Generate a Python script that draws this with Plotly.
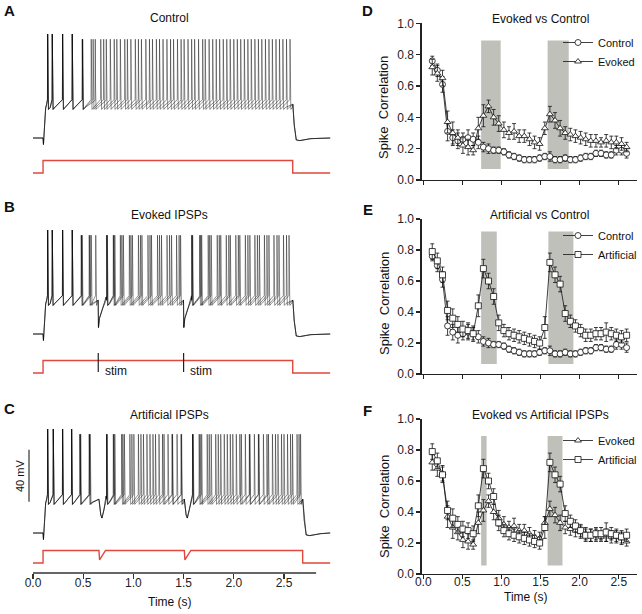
import plotly.graph_objects as go

W, H = 642, 614

# ======================================
# SPIKE CORRELATION DATA (panels D-F)
# ======================================

t_bins = [0.115, 0.180, 0.246, 0.311, 0.377, 0.442, 0.507, 0.573, 0.638, 0.704,
          0.769, 0.834, 0.900, 0.965, 1.031, 1.096, 1.161, 1.227, 1.292, 1.358,
          1.423, 1.488, 1.554, 1.619, 1.685, 1.750, 1.815, 1.881, 1.946, 2.012,
          2.077, 2.142, 2.208, 2.273, 2.339, 2.404, 2.469, 2.535, 2.600]

control_corr = [0.76, 0.70, 0.61, 0.31, 0.27, 0.25, 0.26, 0.27, 0.26, 0.24,
                0.21, 0.20, 0.19, 0.19, 0.18, 0.16, 0.15, 0.14, 0.13, 0.13,
                0.13, 0.14, 0.15, 0.15, 0.13, 0.13, 0.14, 0.13, 0.13, 0.14,
                0.15, 0.15, 0.17, 0.17, 0.16, 0.16, 0.19, 0.19, 0.17]
control_err = [0.03, 0.04, 0.05, 0.06, 0.05, 0.05, 0.04, 0.05, 0.04, 0.04,
               0.03, 0.03, 0.02, 0.02, 0.02, 0.02, 0.02, 0.02, 0.02, 0.02,
               0.02, 0.02, 0.02, 0.03, 0.02, 0.02, 0.02, 0.02, 0.02, 0.02,
               0.02, 0.02, 0.02, 0.02, 0.02, 0.02, 0.03, 0.03, 0.03]

evoked_corr = [0.72, 0.68, 0.65, 0.37, 0.30, 0.27, 0.22, 0.21, 0.19, 0.33,
               0.41, 0.47, 0.40, 0.36, 0.32, 0.30, 0.31, 0.28, 0.28, 0.26,
               0.24, 0.23, 0.33, 0.42, 0.38, 0.33, 0.30, 0.29, 0.28, 0.27,
               0.26, 0.25, 0.25, 0.24, 0.25, 0.24, 0.24, 0.23, 0.21]
evoked_err = [0.05, 0.05, 0.05, 0.07, 0.07, 0.05, 0.05, 0.05, 0.03, 0.07,
              0.07, 0.04, 0.05, 0.05, 0.05, 0.04, 0.05, 0.04, 0.04, 0.04,
              0.04, 0.04, 0.04, 0.05, 0.05, 0.05, 0.04, 0.04, 0.04, 0.04,
              0.04, 0.04, 0.04, 0.03, 0.04, 0.04, 0.04, 0.04, 0.03]

artificial_corr = [0.79, 0.73, 0.64, 0.41, 0.36, 0.32, 0.29, 0.28, 0.26, 0.44,
                   0.68, 0.60, 0.50, 0.33, 0.28, 0.26, 0.25, 0.24, 0.23, 0.22,
                   0.21, 0.20, 0.30, 0.72, 0.64, 0.58, 0.39, 0.34, 0.31, 0.28,
                   0.25, 0.25, 0.26, 0.26, 0.27, 0.26, 0.25, 0.24, 0.25]
artificial_err = [0.05, 0.05, 0.05, 0.06, 0.06, 0.05, 0.05, 0.05, 0.05, 0.07,
                  0.06, 0.05, 0.05, 0.05, 0.04, 0.04, 0.04, 0.04, 0.04, 0.04,
                  0.04, 0.04, 0.07, 0.06, 0.05, 0.05, 0.05, 0.04, 0.04, 0.04,
                  0.04, 0.04, 0.04, 0.04, 0.06, 0.04, 0.04, 0.04, 0.04]

# shaded windows (s) and their vertical extent
shade_d = [(0.74, 0.99), (1.59, 1.86)]
shade_e = [(0.74, 0.94), (1.60, 1.92)]
shade_f = [(0.74, 0.81), (1.59, 1.78)]
shade_y = {"d": (0.07, 0.89), "e": (0.065, 0.92), "f": (0.055, 0.89)}

# ======================================
# RECORDING DATA (panels A-C)
# spike times (s) of three overlaid sweeps
# ======================================

control_spikes = [
    [0.146, 0.192, 0.295, 0.391, 0.494, 0.599, 0.704, 0.809, 0.914, 1.019, 1.124,
     1.229, 1.334, 1.439, 1.544, 1.649, 1.754, 1.859, 1.964, 2.069, 2.174, 2.279,
     2.384, 2.489],
    [0.146, 0.192, 0.295, 0.391, 0.494, 0.620, 0.730, 0.835, 0.940, 1.050, 1.160,
     1.260, 1.370, 1.475, 1.580, 1.690, 1.790, 1.895, 2.000, 2.105, 2.210, 2.315,
     2.420, 2.525],
    [0.146, 0.192, 0.295, 0.391, 0.490, 0.580, 0.675, 0.770, 0.870, 0.975, 1.080,
     1.190, 1.295, 1.400, 1.505, 1.610, 1.715, 1.825, 1.930, 2.035, 2.140, 2.245,
     2.350, 2.455, 2.560],
]

evoked_spikes = [
    [0.146, 0.192, 0.295, 0.391, 0.484, 0.567, 0.735, 0.800, 0.870, 0.960, 1.050,
     1.145, 1.240, 1.335, 1.430, 1.580, 1.660, 1.745, 1.835, 1.925, 2.020, 2.115,
     2.210, 2.305, 2.400, 2.495],
    [0.146, 0.192, 0.295, 0.391, 0.490, 0.580, 0.735, 0.805, 0.885, 0.975, 1.070,
     1.165, 1.260, 1.360, 1.455, 1.585, 1.670, 1.760, 1.855, 1.950, 2.045, 2.140,
     2.235, 2.330, 2.430, 2.525],
    [0.146, 0.192, 0.295, 0.391, 0.480, 0.560, 0.625, 0.740, 0.815, 0.900, 0.990,
     1.085, 1.180, 1.280, 1.380, 1.470, 1.590, 1.680, 1.775, 1.870, 1.965, 2.060,
     2.160, 2.255, 2.350, 2.450, 2.550],
]

artificial_spikes = [
    [0.146, 0.202, 0.295, 0.385, 0.468, 0.561, 0.734, 0.800, 0.883, 0.965, 1.050,
     1.135, 1.220, 1.305, 1.390, 1.475, 1.590, 1.655, 1.735, 1.820, 1.905, 1.990,
     2.075, 2.160, 2.245, 2.330, 2.415, 2.500, 2.585, 2.665],
    [0.146, 0.202, 0.295, 0.385, 0.468, 0.561, 0.734, 0.805, 0.895, 0.985, 1.075,
     1.165, 1.255, 1.345, 1.435, 1.590, 1.665, 1.755, 1.845, 1.935, 2.025, 2.115,
     2.205, 2.295, 2.385, 2.475, 2.565, 2.650],
    [0.146, 0.202, 0.295, 0.385, 0.475, 0.570, 0.738, 0.815, 0.910, 1.005, 1.100,
     1.195, 1.290, 1.385, 1.480, 1.595, 1.680, 1.775, 1.870, 1.965, 2.060, 2.155,
     2.250, 2.345, 2.440, 2.535, 2.630],
]

stim_times = [0.65, 1.50]        # evoked IPSPs
inject_times = [0.657, 1.507]    # artificial IPSPs
step_on = 0.10
step_off = {"A": 2.587, "B": 2.587, "C": 2.686}
t_end = 2.96
step_amp = 200.0                 # pA

# membrane potential levels (mV)
REST, PLATEAU, THR, AHP = -70.0, -44.0, -40.5, -48.0


def fx(px):
    return px / W


def fy(px):
    return 1 - px / H


def sweep_trace(spikes, off, inhib=(), kind=None):
    pts = [(0.0, REST), (step_on, REST), (step_on + 0.004, REST - 5),
           (step_on + 0.014, -56), (step_on + 0.026, -47), (step_on + 0.036, PLATEAU)]
    for ts in spikes:
        peak = 10.0 if ts < 0.45 else 6.0
        pts += [(ts - 0.006, THR - 1), (ts - 0.002, THR), (ts, peak),
                (ts + 0.003, -30), (ts + 0.008, AHP), (ts + 0.025, AHP + 1.5)]
    for ti in inhib:
        if kind == "evoked":
            pts += [(ti - 0.001, PLATEAU), (ti + 0.002, -65), (ti + 0.012, -58),
                    (ti + 0.045, -50), (ti + 0.08, PLATEAU)]
        else:
            pts += [(ti, PLATEAU), (ti + 0.018, -56), (ti + 0.03, -58.5),
                    (ti + 0.05, -52), (ti + 0.075, PLATEAU)]
    pts += [(off + 0.001, PLATEAU), (off + 0.015, -60), (off + 0.035, -71.5),
            (off + 0.07, -72), (off + 0.18, -70.5), (t_end, REST)]
    pts.sort()
    return [p[0] for p in pts], [p[1] for p in pts]


def current_trace(off, dips=()):
    t = [0.0, step_on, step_on]
    i = [0.0, 0.0, step_amp]
    for ti in dips:
        t += [ti, ti + 0.006, ti + 0.065]
        i += [step_amp, 0.25 * step_amp, step_amp]
    t += [off, off, t_end]
    i += [step_amp, 0.0, 0.0]
    return t, i


fig = go.Figure()

# ======================================
# LEFT COLUMN: RECORDINGS
# ======================================

recordings = [
    ("A", control_spikes, (), None, "y", "y2"),
    ("B", evoked_spikes, stim_times, "evoked", "y3", "y4"),
    ("C", artificial_spikes, inject_times, "artificial", "y5", "y6"),
]

for key, sweeps, inhib, kind, yv, yc in recordings:
    for sp in sweeps:
        tx, vy = sweep_trace(sp, step_off[key], inhib, kind)
        fig.add_trace(go.Scatter(
            x=tx, y=vy, mode="lines", xaxis="x", yaxis=yv,
            line=dict(color="rgba(0,0,0,0.55)", width=0.8),
            showlegend=False, hoverinfo="skip"
        ))
    tc, ic = current_trace(step_off[key], inhib if kind == "artificial" else ())
    fig.add_trace(go.Scatter(
        x=tc, y=ic, mode="lines", xaxis="x", yaxis=yc,
        line=dict(color="#e0483d", width=1.4),
        showlegend=False, hoverinfo="skip"
    ))

# ======================================
# RIGHT COLUMN: SPIKE CORRELATION
# ======================================

series = {
    "Control": (control_corr, control_err, "circle"),
    "Evoked": (evoked_corr, evoked_err, "triangle-up"),
    "Artificial": (artificial_corr, artificial_err, "square"),
}

panels = [
    ("x2", "y7", "legend", ["Control", "Evoked"], shade_d, "d"),
    ("x3", "y8", "legend2", ["Control", "Artificial"], shade_e, "e"),
    ("x4", "y9", "legend3", ["Evoked", "Artificial"], shade_f, "f"),
]

shapes = []

for xa, ya, lg, names, shades, sk in panels:
    for name in names:
        vals, err, sym = series[name]
        fig.add_trace(go.Scatter(
            x=t_bins, y=vals, mode="lines+markers", name=name,
            xaxis=xa, yaxis=ya, legend=lg,
            line=dict(color="#111", width=0.8),
            marker=dict(symbol=sym, size=6, color="white",
                        line=dict(color="#111", width=0.8)),
            error_y=dict(type="data", array=err, thickness=0.8, width=2, color="#111")
        ))
    y0, y1 = shade_y[sk]
    for a, b in shades:
        shapes.append(dict(type="rect", xref=xa, yref=ya, x0=a, x1=b, y0=y0, y1=y1,
                           fillcolor="rgb(192,192,187)", line=dict(width=0), layer="below"))

# stimulus marks in B
for ts in stim_times:
    shapes.append(dict(type="line", xref="x", yref="paper", x0=ts, x1=ts,
                       y0=fy(372), y1=fy(353), line=dict(color="#222", width=1.2)))

# time axis line of C
shapes.append(dict(type="line", xref="x", yref="paper", x0=0, x1=2.82,
                   y0=fy(573), y1=fy(573), line=dict(color="#333", width=1.4)))

# 40 mV scale bar
shapes.append(dict(type="line", xref="paper", yref="y5", x0=fx(29), x1=fx(29),
                   y0=-46, y1=-6, line=dict(color="#333", width=1.2)))

# ======================================
# TEXT
# ======================================

font = "Liberation Sans, Arial, sans-serif"
ann = []


def label(text, x, y, size=12, bold=False, angle=0, xanchor="center"):
    ann.append(dict(text=f"<b>{text}</b>" if bold else text, x=fx(x), y=fy(y),
                    xref="paper", yref="paper", showarrow=False, textangle=angle,
                    xanchor=xanchor, yanchor="middle",
                    font=dict(size=size, color="#111", family=font)))


for letter, y in [("A", 10), ("B", 207), ("C", 408)]:
    label(letter, 9, y, size=15, bold=True)
for letter, y in [("D", 10), ("E", 210), ("F", 410)]:
    label(letter, 368, y, size=15, bold=True)

label("Control", 170, 18)
label("Evoked IPSPs", 170, 215)
label("Artificial IPSPs", 170, 415)
label("Evoked vs Control", 540, 19)
label("Artificial vs Control", 539, 215)
label("Evoked vs Artificial IPSPs", 540, 415)
for yc in (107, 303, 506):
    label("Spike\u00a0 Correlation", 384, yc, size=13, angle=-90)
label("Time (s)", 170, 602)
label("Time (s)", 526, 597)
label("40 mV", 20, 476, size=11, angle=-90)
for ts in stim_times:
    ann.append(dict(text="stim", x=ts + 0.045, y=fy(371), xref="x", yref="paper",
                    showarrow=False, xanchor="left", yanchor="middle",
                    font=dict(size=12, color="#111", family=font)))

# ======================================
# AXES
# ======================================

tick_vals = [0, 0.5, 1.0, 1.5, 2.0, 2.5]
tick_text = [f"{v:.1f}" for v in tick_vals]
corr_vals = [0, 0.2, 0.4, 0.6, 0.8, 1.0]
corr_text = [f"{v:.1f}" for v in corr_vals]

hidden = dict(visible=False, showgrid=False, zeroline=False, fixedrange=True)


def volt_axis(base_px):
    return dict(hidden, domain=[fy(base_px + 12), fy(base_px - 113)],
                range=[REST - 12 / 1.3, REST + 113 / 1.3], anchor="x")


def amp_axis(low_px):
    return dict(hidden, domain=[fy(low_px + 5), fy(low_px - 20)],
                range=[-5 / 0.0625, 20 / 0.0625], anchor="x")


def time_axis(ya, labels):
    return dict(domain=[fx(421.7), fx(637)], range=[-0.02, 2.733], anchor=ya,
                showline=True, linecolor="#222", linewidth=1.3, showgrid=False,
                zeroline=False, ticks="outside", ticklen=4, tickwidth=1.3,
                tickcolor="#222", tickvals=tick_vals, ticktext=tick_text,
                showticklabels=labels, ticklabelstandoff=-8,
                tickfont=dict(size=12, color="#222"))


def corr_axis(xa, top_px, bot_px):
    return dict(domain=[fy(bot_px), fy(top_px)], range=[0, 1], anchor=xa,
                showline=True, linecolor="#222", linewidth=1.3, showgrid=False,
                zeroline=False, ticks="outside", ticklen=4, tickwidth=1.3,
                tickcolor="#222", tickvals=corr_vals, ticktext=corr_text,
                tickfont=dict(size=12, color="#222"))


def legend_box(top_px):
    return dict(x=fx(558), y=fy(top_px), xanchor="left", yanchor="top",
                bgcolor="rgba(0,0,0,0)", font=dict(size=11, color="#111", family=font),
                itemwidth=30, tracegroupgap=0)


fig.update_layout(
    width=W, height=H,
    margin=dict(l=0, r=0, t=0, b=0, autoexpand=False),
    paper_bgcolor="white", plot_bgcolor="white",
    font=dict(family=font, color="#111"),
    showlegend=True,
    xaxis=dict(domain=[fx(33), fx(333)], range=[0, 300 / 100.4], anchor="free",
               position=fy(573), showline=False, showgrid=False, zeroline=False,
               ticks="outside", ticklen=5, tickwidth=1.3, tickcolor="#333",
               tickvals=tick_vals, ticktext=tick_text, ticklabelstandoff=-6,
               tickfont=dict(size=12, color="#222")),
    yaxis=volt_axis(138), yaxis2=amp_axis(173),
    yaxis3=volt_axis(334), yaxis4=amp_axis(373),
    yaxis5=volt_axis(533), yaxis6=amp_axis(563),
    xaxis2=time_axis("y7", False),
    xaxis3=time_axis("y8", False),
    xaxis4=time_axis("y9", True),
    yaxis7=corr_axis("x2", 23.3, 180),
    yaxis8=corr_axis("x3", 219, 374),
    yaxis9=corr_axis("x4", 419, 574),
    legend=legend_box(28),
    legend2=legend_box(221),
    legend3=legend_box(426),
    shapes=shapes,
    annotations=ann,
)

fig.write_html(
    "out.html",
    config={"staticPlot": True},
    post_script="document.body.style.margin='0';document.body.style.overflow='hidden';",
)
